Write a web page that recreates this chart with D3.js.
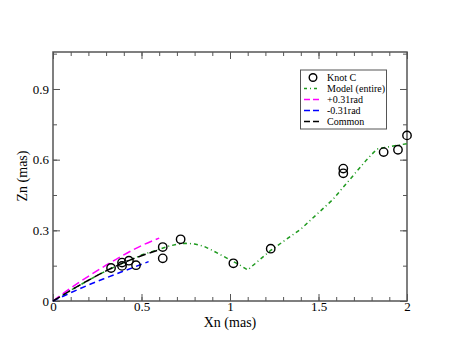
<!DOCTYPE html>
<html>
<head>
<meta charset="utf-8">
<script src="https://cdn.jsdelivr.net/npm/d3@7"></script>
<style>
  body { margin: 0; background: #fff; }
  svg text { font-family: "Liberation Serif", "Times New Roman", Times, "DejaVu Serif", serif; }
</style>
</head>
<body>
<svg width="458" height="354"></svg>
<script>
// knot C observed positions (Xn, Zn)
const knotX = [0.328, 0.390, 0.390, 0.429, 0.469, 0.620, 0.620, 0.721, 1.019, 1.230, 1.640, 1.640, 1.868, 1.949, 2.000];
const knotZ = [0.140, 0.163, 0.149, 0.171, 0.152, 0.229, 0.181, 0.262, 0.160, 0.222, 0.562, 0.542, 0.632, 0.642, 0.703];

// model (entire)
const modelX = [0, 0.1, 0.2, 0.3, 0.4, 0.5, 0.6, 0.65, 0.7, 0.75, 0.8, 0.85, 0.9, 0.95, 1.0, 1.05, 1.1, 1.23, 1.4, 1.58, 1.77, 1.83, 1.9, 2.0];
const modelZ = [0, 0.045, 0.088, 0.128, 0.163, 0.195, 0.22, 0.232, 0.241, 0.245, 0.242, 0.233, 0.215, 0.195, 0.175, 0.155, 0.132, 0.215, 0.305, 0.43, 0.598, 0.645, 0.655, 0.668];

// +0.31rad, -0.31rad, common
const plusX = [0, 0.1, 0.2, 0.3, 0.4, 0.5, 0.6];
const plusZ = [0, 0.055, 0.105, 0.152, 0.196, 0.235, 0.267];
const minusX = [0, 0.1, 0.2, 0.3, 0.4, 0.54];
const minusZ = [0, 0.035, 0.068, 0.098, 0.127, 0.167];
const commonX = [0, 0.1, 0.2, 0.3, 0.4, 0.5, 0.6];
const commonZ = [0, 0.045, 0.088, 0.128, 0.163, 0.192, 0.217];

const xMajor = [0, 0.5, 1, 1.5, 2];
const yMajor = [0, 0.3, 0.6, 0.9];

const svg = d3.select("svg");
const mLeft = 53, mRight = 407, mTop = 52, mBottom = 301;

const x = d3.scaleLinear().domain([0, 2]).range([mLeft, mRight]);
const y = d3.scaleLinear().domain([0, 1.057]).range([mBottom, mTop]);

const frameColor = "#555";
const fmt = d => d3.format("")(d);

// frame
svg.append("rect")
  .attr("x", mLeft).attr("y", mTop)
  .attr("width", mRight - mLeft).attr("height", mBottom - mTop)
  .attr("fill", "none").attr("stroke", frameColor).attr("stroke-width", 1.5);

function styleAxis(g) {
  g.attr("font-family", null);
  g.select(".domain").remove();
  g.selectAll("line").attr("stroke", frameColor).attr("stroke-width", 1);
  g.selectAll("text").attr("font-size", 13).attr("fill", "#000");
}

const xMinor = d3.range(0, 2.0001, 0.1).map(d => +d.toFixed(2));
const yMinor = d3.range(0, 1.06, 0.15).map(d => +d.toFixed(2));

// bottom
svg.append("g").attr("transform", `translate(0,${mBottom})`)
  .call(d3.axisBottom(x).tickValues(xMinor).tickSize(-4).tickFormat(""))
  .call(styleAxis);
svg.append("g").attr("transform", `translate(0,${mBottom})`)
  .call(d3.axisBottom(x).tickValues(xMajor).tickSize(-7).tickPadding(1).tickFormat(fmt))
  .call(styleAxis);
// top
svg.append("g").attr("transform", `translate(0,${mTop})`)
  .call(d3.axisTop(x).tickValues(xMinor).tickSize(-4).tickFormat(""))
  .call(styleAxis);
svg.append("g").attr("transform", `translate(0,${mTop})`)
  .call(d3.axisTop(x).tickValues(xMajor).tickSize(-7).tickFormat(""))
  .call(styleAxis);
// left
svg.append("g").attr("transform", `translate(${mLeft},0)`)
  .call(d3.axisLeft(y).tickValues(yMinor).tickSize(-4).tickFormat(""))
  .call(styleAxis);
svg.append("g").attr("transform", `translate(${mLeft},0)`)
  .call(d3.axisLeft(y).tickValues(yMajor).tickSize(-7).tickPadding(4).tickFormat(fmt))
  .call(styleAxis);
// right
svg.append("g").attr("transform", `translate(${mRight},0)`)
  .call(d3.axisRight(y).tickValues(yMinor).tickSize(-4).tickFormat(""))
  .call(styleAxis);
svg.append("g").attr("transform", `translate(${mRight},0)`)
  .call(d3.axisRight(y).tickValues(yMajor).tickSize(-7).tickFormat(""))
  .call(styleAxis);

// axis titles
svg.append("text").attr("x", 230).attr("y", 327).attr("text-anchor", "middle")
  .attr("font-size", 14).text("Xn (mas)");
svg.append("text").attr("transform", "translate(27,176) rotate(-90)")
  .attr("text-anchor", "middle").attr("font-size", 14).text("Zn (mas)");

const smooth = d3.line().x(d => x(d[0])).y(d => y(d[1])).curve(d3.curveMonotoneX);
const straight = d3.line().x(d => x(d[0])).y(d => y(d[1]));
const zip = (a, b) => a.map((v, i) => [v, b[i]]);

const series = [
  { xs: modelX, zs: modelZ, color: "#1f9a1f", dash: "4,3,1,3", label: "Model (entire)", gen: straight },
  { xs: plusX, zs: plusZ, color: "#ff00ff", dash: "8,4", label: "+0.31rad", gen: smooth },
  { xs: minusX, zs: minusZ, color: "#0000ff", dash: "6,4", label: "-0.31rad", gen: smooth },
  { xs: commonX, zs: commonZ, color: "#000", dash: "8,4", label: "Common", gen: smooth }
];

series.forEach(s => {
  svg.append("path").datum(zip(s.xs, s.zs))
    .attr("d", s.gen).attr("fill", "none")
    .attr("stroke", s.color).attr("stroke-width", 1.5)
    .attr("stroke-dasharray", s.dash);
});

svg.append("g").selectAll("circle").data(zip(knotX, knotZ)).join("circle")
  .attr("cx", d => x(d[0])).attr("cy", d => y(d[1])).attr("r", 4.2)
  .attr("fill", "none").attr("stroke", "#000").attr("stroke-width", 1.4);

// legend
const lg = svg.append("g");
lg.append("rect").attr("x", 300.5).attr("y", 70).attr("width", 86).attr("height", 59)
  .attr("fill", "#fff").attr("stroke", frameColor).attr("stroke-width", 1);
const rowY = [77.5, 88.5, 99.5, 110.5, 121.5];
lg.append("circle").attr("cx", 313).attr("cy", rowY[0]).attr("r", 3.8)
  .attr("fill", "none").attr("stroke", "#000").attr("stroke-width", 1.4);
lg.append("text").attr("x", 327).attr("y", rowY[0] + 3.5).attr("font-size", 10).text("Knot C");
series.forEach((s, i) => {
  const yy = rowY[i + 1];
  lg.append("line").attr("x1", 304).attr("x2", 320).attr("y1", yy).attr("y2", yy)
    .attr("stroke", s.color).attr("stroke-width", 1.5).attr("stroke-dasharray", i === 0 ? "3,3,1,3" : "6,3");
  lg.append("text").attr("x", 327).attr("y", yy + 3.5).attr("font-size", 10).text(s.label);
});
</script>
</body>
</html>
